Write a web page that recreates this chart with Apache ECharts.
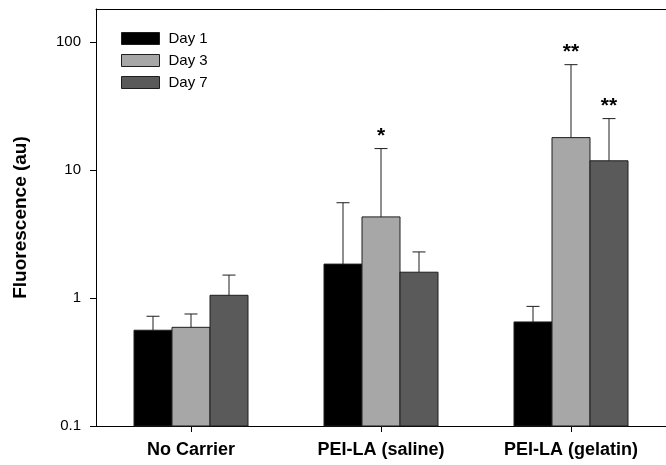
<!DOCTYPE html>
<html>
<head>
<meta charset="utf-8">
<script src="https://cdn.jsdelivr.net/npm/echarts@6/dist/echarts.min.js"></script>
<style>
  html, body { margin: 0; padding: 0; background: #fff; }
  #chart { width: 666px; height: 465px; }
</style>
</head>
<body>
<div id="chart"></div>
<script>
// Fluorescence by carrier and day (log scale), mean with upper error bar
const categories = ['No Carrier', 'PEI-LA (saline)', 'PEI-LA (gelatin)'];
const seriesNames = ['Day 1', 'Day 3', 'Day 7'];

const day1 = [0.56, 1.84, 0.65];
const day3 = [0.59, 4.3, 17.9];
const day7 = [1.05, 1.59, 11.8];

// upper end of each error bar
const day1Upper = [0.72, 5.55, 0.86];
const day3Upper = [0.75, 14.7, 66.5];
const day7Upper = [1.51, 2.29, 25.2];

// significance markers above error bars
const day1Sig = ['', '', ''];
const day3Sig = ['', '*', '**'];
const day7Sig = ['', '', '**'];

const yTicks = [0.1, 1, 10, 100];
const Y_MIN = 0.1;
const Y_MAX = 181;

const colors = ['#000000', '#a7a7a7', '#5a5a5a'];
const means = [day1, day3, day7];
const uppers = [day1Upper, day3Upper, day7Upper];
const sigs = [day1Sig, day3Sig, day7Sig];

// each bar takes this share of the category band; the three bars touch
const BAR_FRACTION = 0.2;
const EDGE = '#1e1e1e';

// Bars are drawn from the axis floor (not from 1, as log bars would be)
const series = seriesNames.map((name, k) => ({
  name: name,
  type: 'custom',
  itemStyle: { color: colors[k], borderColor: EDGE, borderWidth: 1 },
  data: categories.map((c, i) => [i, means[k][i], uppers[k][i]]),
  encode: { x: 0, y: [1, 2] },
  renderItem: function (params, api) {
    const i = api.value(0);
    const band = api.size([1, 0])[0];
    const w = BAR_FRACTION * band;
    const center = api.coord([i, api.value(1)]);
    const floor = api.coord([i, Y_MIN]);
    const top = api.coord([i, api.value(2)]);
    const x = center[0] + (k - 1) * w;
    const lineStyle = { stroke: EDGE, lineWidth: 1 };
    const children = [
      {
        type: 'rect',
        shape: { x: x - w / 2, y: center[1], width: w, height: floor[1] - center[1] },
        style: { fill: colors[k], stroke: EDGE, lineWidth: 1 }
      },
      { type: 'line', shape: { x1: x, y1: center[1], x2: x, y2: top[1] }, style: lineStyle },
      { type: 'line', shape: { x1: x - 6.5, y1: top[1], x2: x + 6.5, y2: top[1] }, style: lineStyle }
    ];
    const s = sigs[k][i];
    if (s) {
      children.push({
        type: 'text',
        style: {
          x: x, y: top[1] - 12,
          text: s,
          fill: '#000',
          font: 'bold 21px Arial, "Liberation Sans", sans-serif',
          align: 'center',
          verticalAlign: 'middle'
        }
      });
    }
    return { type: 'group', children: children };
  }
}));

const chart = echarts.init(document.getElementById('chart'), null, { renderer: 'canvas' });
chart.setOption({
  animation: false,
  backgroundColor: '#fff',
  textStyle: { fontFamily: 'Arial, "Liberation Sans", sans-serif' },
  grid: { left: 96, top: 9, bottom: 39, width: 579, containLabel: false },
  legend: {
    data: seriesNames,
    orient: 'vertical',
    left: 121,
    top: 31,
    padding: 0,
    icon: 'rect',
    itemWidth: 38,
    itemHeight: 12,
    itemGap: 7,
    itemStyle: { borderColor: EDGE, borderWidth: 1 },
    textStyle: { fontSize: 15, color: '#000', padding: [0, 0, 0, 4] }
  },
  xAxis: [
    {
      type: 'category',
      data: categories,
      axisLine: { lineStyle: { color: '#000', width: 1 } },
      axisTick: { show: true, alignWithLabel: true, length: 6, lineStyle: { color: '#000' } },
      axisLabel: { fontSize: 18, fontWeight: 'bold', color: '#000', margin: 15 }
    },
    {
      type: 'category',
      data: categories,
      position: 'top',
      axisLine: { lineStyle: { color: '#000', width: 1 } },
      axisTick: { show: false },
      axisLabel: { show: false }
    }
  ],
  yAxis: {
    type: 'log',
    logBase: 10,
    min: Y_MIN,
    max: Y_MAX,
    name: 'Fluorescence (au)',
    nameLocation: 'middle',
    nameGap: 66,
    nameTextStyle: { fontSize: 19, fontWeight: 'bold', color: '#000' },
    axisLine: { show: true, lineStyle: { color: '#000', width: 1 } },
    axisTick: { show: true, length: 6, lineStyle: { color: '#000' }, customValues: yTicks },
    axisLabel: {
      fontSize: 15, color: '#000', margin: 15,
      customValues: yTicks,
      formatter: function (v) { return yTicks.indexOf(v) >= 0 ? String(v) : ''; }
    },
    splitLine: { show: false }
  },
  series: series
});
</script>
</body>
</html>
